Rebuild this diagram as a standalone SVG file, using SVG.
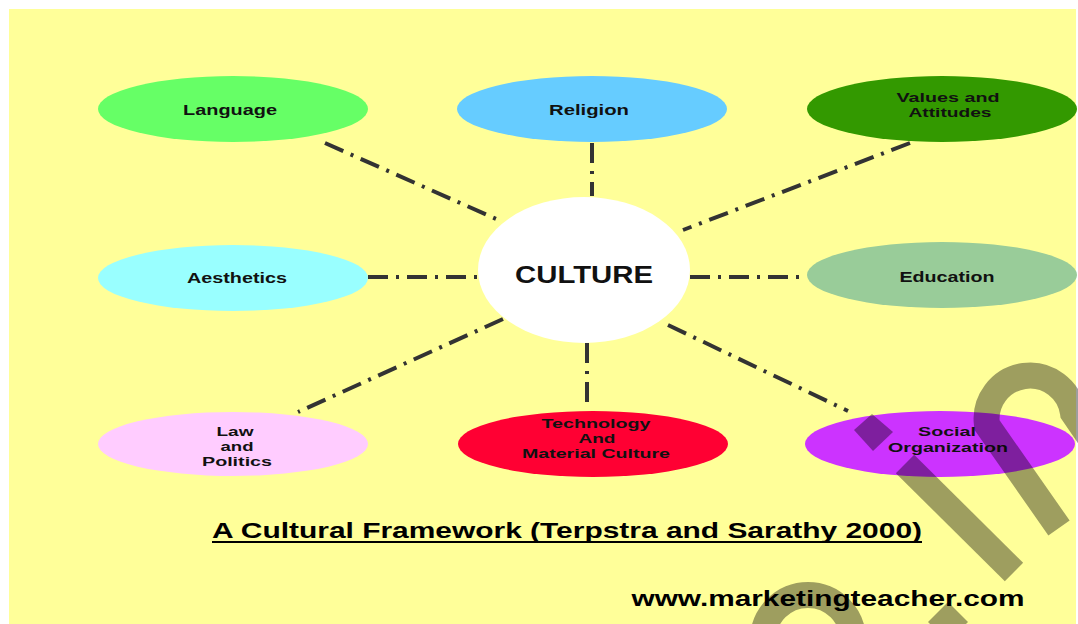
<svg xmlns="http://www.w3.org/2000/svg" width="1078" height="624" viewBox="0 0 1078 624">
<style>
.lbl{font-family:"Liberation Sans",Arial,sans-serif;font-weight:bold;font-size:15px;fill:#111;text-anchor:middle}
.ml{font-size:13.5px}
.big{font-family:"Liberation Sans",Arial,sans-serif;font-weight:bold;font-size:23px;fill:#111;text-anchor:middle}
.ttl{font-family:"Liberation Sans",Arial,sans-serif;font-weight:bold;font-size:22px;fill:#000;text-anchor:middle}
.con{stroke:#333;stroke-width:4;stroke-dasharray:20 8 3 8;fill:none}
.wm{stroke:#000;stroke-opacity:0.38;stroke-width:26;fill:none}
</style>
<rect x="0" y="0" width="1078" height="624" fill="#fff"/>
<rect x="9" y="9" width="1067" height="615" fill="#FFFF99"/>
<g id="connectors">
<line class="con" x1="325" y1="143" x2="503" y2="222"/>
<line class="con" x1="592" y1="143" x2="592" y2="196"/>
<line class="con" x1="910" y1="143" x2="683" y2="230"/>
<line class="con" x1="368" y1="277" x2="478" y2="277"/>
<line class="con" x1="690" y1="277" x2="807" y2="277"/>
<line class="con" x1="503" y1="319" x2="298" y2="412"/>
<line class="con" x1="587" y1="343" x2="587" y2="406"/>
<line class="con" x1="668" y1="325" x2="848" y2="411"/>
</g>
<g id="language"><ellipse cx="233" cy="109" rx="135" ry="33" fill="#66FF66"/><text class="lbl" x="230" y="115" textLength="94" lengthAdjust="spacingAndGlyphs">Language</text></g>
<g id="religion"><ellipse cx="592" cy="109" rx="135" ry="33" fill="#66CCFF"/><text class="lbl" x="589" y="115" textLength="80" lengthAdjust="spacingAndGlyphs">Religion</text></g>
<g id="values"><ellipse cx="942" cy="109" rx="135" ry="33" fill="#339900"/><text class="lbl ml" x="948" y="102" textLength="103" lengthAdjust="spacingAndGlyphs">Values and</text><text class="lbl ml" x="950" y="117" textLength="83" lengthAdjust="spacingAndGlyphs">Attitudes</text></g>
<g id="aesthetics"><ellipse cx="233" cy="278" rx="135" ry="33" fill="#99FFFF"/><text class="lbl" x="237" y="283" textLength="100" lengthAdjust="spacingAndGlyphs">Aesthetics</text></g>
<g id="culture"><ellipse cx="584" cy="270" rx="106" ry="73" fill="#FFFFFF"/><text class="big" x="584" y="283" textLength="138" lengthAdjust="spacingAndGlyphs">CULTURE</text></g>
<g id="education"><ellipse cx="942" cy="275" rx="135" ry="33" fill="#99CC99"/><text class="lbl" x="947" y="282" textLength="95" lengthAdjust="spacingAndGlyphs">Education</text></g>
<g id="law"><ellipse cx="233" cy="444" rx="135" ry="32" fill="#FFCCFF"/><text class="lbl ml" x="235" y="436" textLength="37" lengthAdjust="spacingAndGlyphs">Law</text><text class="lbl ml" x="237" y="451" textLength="33" lengthAdjust="spacingAndGlyphs">and</text><text class="lbl ml" x="237" y="466" textLength="70" lengthAdjust="spacingAndGlyphs">Politics</text></g>
<g id="technology"><ellipse cx="593" cy="444" rx="135" ry="33" fill="#FF0033"/><text class="lbl ml" x="596" y="428" textLength="109" lengthAdjust="spacingAndGlyphs">Technology</text><text class="lbl ml" x="597" y="443" textLength="37" lengthAdjust="spacingAndGlyphs">And</text><text class="lbl ml" x="596" y="458" textLength="148" lengthAdjust="spacingAndGlyphs">Material Culture</text></g>
<g id="social"><ellipse cx="940" cy="444" rx="135" ry="33" fill="#CC33FF"/><text class="lbl ml" x="947" y="436" textLength="58" lengthAdjust="spacingAndGlyphs">Social</text><text class="lbl ml" x="948" y="452" textLength="120" lengthAdjust="spacingAndGlyphs">Organization</text></g>
<g id="title"><text class="ttl" x="567" y="538" textLength="710" lengthAdjust="spacingAndGlyphs">A Cultural Framework (Terpstra and Sarathy 2000)</text><line x1="212" y1="542" x2="922" y2="542" stroke="#000" stroke-width="2"/></g>
<g id="website"><text class="ttl" x="828" y="606" textLength="393" lengthAdjust="spacingAndGlyphs">www.marketingteacher.com</text></g>
<g id="watermark">
<path class="wm" d="M1059,528 L987,425 A43,43 0 0 1 1073,413 L1095,445"/>
<line class="wm" x1="905" y1="464" x2="1014" y2="572"/>
<polygon points="872,414 893,432 873,451 854,430" fill="#000" fill-opacity="0.38"/>
<path class="wm" stroke-width="22" d="M763,640 A45,45 0 0 1 853,640"/>
<polygon points="948,602 968,622 948,642 928,622" fill="#000" fill-opacity="0.38"/>
</g>
</svg>
